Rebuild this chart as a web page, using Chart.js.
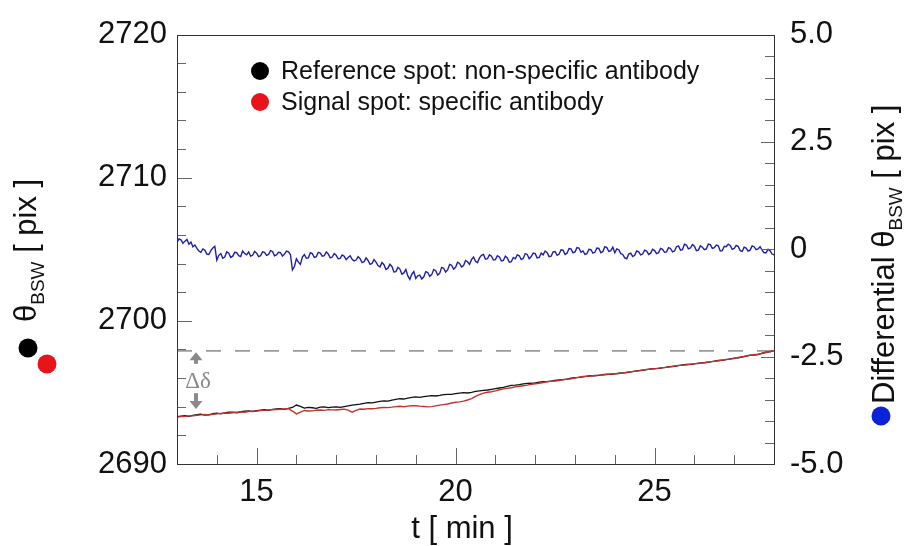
<!DOCTYPE html>
<html lang="en">
<head>
  <meta charset="UTF-8" />
  <title>BSW angle vs time</title>
  <script src="https://cdn.jsdelivr.net/npm/chart.js"></script>
  <style>
    body { margin: 0; background: #fff; }
    canvas { display: block; }
  </style>
</head>
<body>
  <canvas id="bswChart" width="908" height="546"></canvas>

  <script>
    // time grid (min)
    const tStart = 13, tEnd = 28;
    const xTickLabels = [15, 20, 25];
    const xMinorTicks = [14, 15, 16, 17, 18, 19, 20, 21, 22, 23, 24, 25, 26, 27];

    // left axis: theta_BSW [pix]
    const leftTicks = [2690, 2700, 2710, 2720];
    const leftMinorTicks = [2692, 2694, 2696, 2698, 2700, 2702, 2704, 2706, 2708, 2710, 2712, 2714, 2716, 2718];
    // right axis: differential [pix]
    const rightTicks = [5, 2.5, 0, -2.5, -5];
    const rightMinorTicks = [-4.5, -4, -3.5, -3, -2.5, -2, -1.5, -1, -0.5, 0, 0.5, 1, 1.5, 2, 2.5, 3, 3.5, 4, 4.5];

    const deltaLevel = 2697.9;

    // reference spot, sampled every 0.1 min from 13 to 28
    const reference = [
      2693.30, 2693.35, 2693.37, 2693.33, 2693.39, 2693.44, 2693.48, 2693.42, 2693.44, 2693.51,
      2693.55, 2693.50, 2693.57, 2693.62, 2693.63, 2693.58, 2693.65, 2693.69, 2693.71, 2693.67,
      2693.72, 2693.77, 2693.79, 2693.75, 2693.81, 2693.85, 2693.86, 2693.82, 2693.89, 2693.95,
      2694.12, 2694.02, 2693.90, 2693.95, 2693.93, 2693.89, 2693.97, 2693.99, 2693.94, 2693.98,
      2693.99, 2693.96, 2694.01, 2694.06, 2694.11, 2694.15, 2694.19, 2694.24, 2694.29, 2694.27,
      2694.33, 2694.38, 2694.41, 2694.39, 2694.46, 2694.52, 2694.56, 2694.54, 2694.61, 2694.66,
      2694.69, 2694.65, 2694.70, 2694.74, 2694.77, 2694.75, 2694.79, 2694.84, 2694.87, 2694.86,
      2694.91, 2694.95, 2694.98, 2694.96, 2695.01, 2695.07, 2695.11, 2695.14, 2695.17, 2695.22,
      2695.27, 2695.31, 2695.35, 2695.43, 2695.49, 2695.51, 2695.55, 2695.60, 2695.63, 2695.64,
      2695.67, 2695.72, 2695.75, 2695.76, 2695.79, 2695.84, 2695.87, 2695.90, 2695.93, 2695.99,
      2696.03, 2696.05, 2696.09, 2696.14, 2696.17, 2696.16, 2696.19, 2696.24, 2696.27, 2696.26,
      2696.29, 2696.34, 2696.37, 2696.39, 2696.43, 2696.49, 2696.53, 2696.55, 2696.59, 2696.64,
      2696.67, 2696.68, 2696.71, 2696.77, 2696.81, 2696.83, 2696.87, 2696.92, 2696.95, 2696.96,
      2696.99, 2697.04, 2697.07, 2697.09, 2697.13, 2697.19, 2697.23, 2697.24, 2697.29, 2697.35,
      2697.39, 2697.42, 2697.47, 2697.55, 2697.61, 2697.60, 2697.65, 2697.74, 2697.81, 2697.84,
      2697.92
    ];
    // signal spot, same sampling
    const signal = [
      2693.28, 2693.31, 2693.33, 2693.36, 2693.37, 2693.41, 2693.43, 2693.46, 2693.43, 2693.48,
      2693.50, 2693.54, 2693.56, 2693.55, 2693.58, 2693.62, 2693.64, 2693.62, 2693.66, 2693.69,
      2693.70, 2693.73, 2693.75, 2693.78, 2693.79, 2693.80, 2693.83, 2693.85, 2693.86, 2693.70,
      2693.50, 2693.62, 2693.74, 2693.70, 2693.71, 2693.76, 2693.77, 2693.75, 2693.80, 2693.78,
      2693.77, 2693.81, 2693.83, 2693.76, 2693.62, 2693.75, 2693.84, 2693.83, 2693.87, 2693.86,
      2693.89, 2693.93, 2693.95, 2693.94, 2693.97, 2694.01, 2694.03, 2694.00, 2694.04, 2694.07,
      2694.07, 2694.04, 2694.02, 2693.99, 2694.01, 2694.06, 2694.11, 2694.15, 2694.19, 2694.26,
      2694.31, 2694.34, 2694.39, 2694.47, 2694.57, 2694.72, 2694.85, 2694.95, 2695.01, 2695.05,
      2695.11, 2695.19, 2695.25, 2695.28, 2695.33, 2695.39, 2695.43, 2695.47, 2695.51, 2695.57,
      2695.61, 2695.64, 2695.69, 2695.75, 2695.79, 2695.80, 2695.83, 2695.89, 2695.93, 2695.96,
      2696.01, 2696.07, 2696.11, 2696.12, 2696.15, 2696.19, 2696.21, 2696.22, 2696.25, 2696.30,
      2696.31, 2696.32, 2696.35, 2696.41, 2696.45, 2696.47, 2696.51, 2696.57, 2696.61, 2696.62,
      2696.65, 2696.70, 2696.73, 2696.75, 2696.79, 2696.85, 2696.89, 2696.90, 2696.93, 2696.98,
      2697.01, 2697.02, 2697.05, 2697.11, 2697.15, 2697.17, 2697.21, 2697.27, 2697.31, 2697.33,
      2697.37, 2697.44, 2697.49, 2697.53, 2697.59, 2697.64, 2697.67, 2697.72, 2697.79, 2697.86,
      2697.93
    ];
    // differential, sampled every 0.05 min from 13 to 28
    const differential = [
      0.16, 0.24, 0.22, 0.14, 0.19, 0.23, 0.12, 0.17, 0.06, 0.10, 0.02, -0.04, -0.07, 0.01, -0.02, -0.11, -0.12, -0.03, 0.03, 0.07,
      -0.25, -0.14, -0.10, -0.21, -0.18, -0.06, -0.09, -0.19, -0.16, -0.07, -0.08, -0.15, -0.17, -0.04, -0.10, -0.13, -0.06, -0.16, -0.14, -0.05,
      -0.09, -0.17, -0.15, -0.06, -0.07, -0.14, -0.12, -0.03, -0.05, -0.15, -0.13, -0.07, -0.08, -0.16, -0.11, -0.04, -0.06, -0.12, -0.48, -0.40,
      -0.22, -0.30, -0.35, -0.18, -0.12, -0.21, -0.20, -0.08, -0.10, -0.19, -0.17, -0.07, -0.09, -0.16, -0.15, -0.06, -0.11, -0.20, -0.18, -0.10,
      -0.14, -0.22, -0.21, -0.13, -0.16, -0.24, -0.19, -0.15, -0.23, -0.27, -0.25, -0.17, -0.22, -0.31, -0.29, -0.20, -0.26, -0.35, -0.33, -0.24,
      -0.30, -0.38, -0.41, -0.31, -0.36, -0.47, -0.44, -0.35, -0.40, -0.53, -0.52, -0.42, -0.46, -0.58, -0.55, -0.47, -0.62, -0.70, -0.58, -0.52,
      -0.68, -0.62, -0.60, -0.69, -0.64, -0.52, -0.54, -0.63, -0.59, -0.47, -0.50, -0.60, -0.56, -0.42, -0.44, -0.53, -0.48, -0.35, -0.37, -0.46,
      -0.42, -0.30, -0.33, -0.41, -0.38, -0.26, -0.29, -0.35, -0.24, -0.18, -0.28, -0.31, -0.20, -0.14, -0.12, -0.23, -0.22, -0.13, -0.16, -0.25,
      -0.24, -0.15, -0.18, -0.27, -0.26, -0.16, -0.20, -0.30, -0.29, -0.19, -0.22, -0.13, -0.15, -0.24, -0.21, -0.10, -0.12, -0.22, -0.17, -0.09,
      -0.10, -0.20, -0.19, -0.09, -0.13, -0.04, -0.08, -0.17, -0.16, -0.06, -0.05, -0.14, -0.11, -0.01, -0.02, -0.12, -0.09, 0.02, 0.01, -0.08,
      -0.06, 0.04, 0.03, -0.07, -0.04, -0.12, -0.10, 0.00, -0.01, -0.09, -0.07, 0.03, 0.02, -0.08, -0.05, 0.06, 0.04, -0.05, -0.03, 0.05,
      -0.08, 0.01, -0.01, -0.10, -0.12, -0.20, -0.22, -0.11, -0.09, -0.17, -0.14, -0.04, -0.06, -0.13, -0.11, -0.02, -0.04, -0.12, -0.09, 0.00,
      -0.03, -0.10, -0.08, 0.02, 0.00, -0.07, -0.06, 0.04, 0.02, -0.06, -0.04, 0.06, 0.08, -0.02, -0.01, 0.12, 0.10, 0.01, 0.03, 0.11,
      0.07, -0.03, -0.02, 0.08, 0.05, -0.01, 0.01, 0.12, 0.11, 0.02, 0.04, 0.10, 0.08, -0.04, -0.03, 0.07, 0.06, 0.12, 0.09, 0.00,
      0.02, 0.09, 0.07, -0.03, -0.05, 0.05, 0.03, -0.04, -0.02, 0.08, 0.06, -0.01, 0.01, 0.06, -0.02, -0.08, -0.08, 0.00, -0.03, -0.11,
      -0.13
    ];

    const FONT = "'Liberation Sans', Arial, Helvetica, sans-serif";
    const tSpot = (i, step) => +(tStart + i * step).toFixed(2);
    const toPoints = (arr, step) => arr.map((v, i) => ({ x: tSpot(i, step), y: v }));

    // inward ticks + box frame
    const frameTicks = {
      id: 'frameTicks',
      afterDatasetsDraw(chart) {
        const { ctx, chartArea: a, scales } = chart;
        ctx.save();
        ctx.lineWidth = 1;
        ctx.strokeStyle = '#666';
        const seg = (x1, y1, x2, y2) => { ctx.beginPath(); ctx.moveTo(x1, y1); ctx.lineTo(x2, y2); ctx.stroke(); };
        xMinorTicks.forEach(v => {
          const px = Math.round(scales.x.getPixelForValue(v)) + 0.5;
          seg(px, a.bottom, px, a.bottom - (xTickLabels.includes(v) ? 16 : 9));
        });
        leftMinorTicks.forEach(v => {
          const py = Math.round(scales.y.getPixelForValue(v)) + 0.5;
          seg(a.left, py, a.left + (v % 10 === 0 ? 15 : 9), py);
        });
        rightMinorTicks.forEach(v => {
          const py = Math.round(scales.y1.getPixelForValue(v)) + 0.5;
          seg(a.right, py, a.right - (v % 2.5 === 0 ? 13 : 9), py);
        });
        ctx.strokeStyle = '#333';
        ctx.strokeRect(Math.round(a.left) + 0.5, Math.round(a.top) + 0.5,
          Math.round(a.right - a.left), Math.round(a.bottom - a.top));
        ctx.restore();
      }
    };

    // legend, axis titles, delta annotation
    const decorations = {
      id: 'decorations',
      afterDraw(chart) {
        const { ctx, chartArea: a, scales } = chart;
        const ds = chart.data.datasets;
        ctx.save();

        // legend in the plot
        ctx.font = '25px ' + FONT;
        ctx.textBaseline = 'middle';
        [[ds[1], '#000', 71], [ds[0], '#e8141b', 102]].forEach(([d, c, y]) => {
          ctx.beginPath();
          ctx.fillStyle = c;
          ctx.arc(a.left + 83, y, 9, 0, Math.PI * 2);
          ctx.fill();
          ctx.fillStyle = '#111';
          ctx.fillText(d.label, a.left + 104, y + 1);
        });

        // rotated title with subscript
        const rotTitle = (x, yStart, parts) => {
          ctx.save();
          ctx.translate(x, yStart);
          ctx.rotate(-Math.PI / 2);
          ctx.textBaseline = 'alphabetic';
          ctx.textAlign = 'left';
          let cx = 0;
          parts.forEach(([txt, size, dy]) => {
            ctx.font = size + 'px ' + FONT;
            ctx.fillText(txt, cx, dy);
            cx += ctx.measureText(txt).width;
          });
          ctx.restore();
        };
        ctx.fillStyle = '#111';
        rotTitle(36, 322, [['\u03b8', 31, 0], ['BSW', 19, 8], [' [ pix ]', 31, 0]]);
        rotTitle(894, 404, [['Differential \u03b8', 31, 0], ['BSW', 19, 8], [' [ pix ]', 31, 0]]);

        // dots next to the titles
        [[28, 348, '#000'], [47, 364, '#e8141b'], [881, 416, '#0a22d8']].forEach(([x, y, c]) => {
          ctx.beginPath();
          ctx.fillStyle = c;
          ctx.arc(x, y, 9.5, 0, Math.PI * 2);
          ctx.fill();
        });

        // x title
        ctx.fillStyle = '#111';
        ctx.font = '31px ' + FONT;
        ctx.textAlign = 'center';
        ctx.textBaseline = 'alphabetic';
        ctx.fillText('t [ min ]', 462, 538);

        // delta-delta annotation
        const ax = Math.round(scales.x.getPixelForValue(13.48));
        const yv = v => scales.y.getPixelForValue(v);
        ctx.fillStyle = '#8a8a8a';
        ctx.strokeStyle = '#8a8a8a';
        ctx.lineWidth = 4;
        const arrow = (yTip, yTail) => {
          const dir = yTip < yTail ? 1 : -1;
          ctx.beginPath();
          ctx.moveTo(ax, yTip + dir * 6);
          ctx.lineTo(ax, yTail);
          ctx.stroke();
          ctx.beginPath();
          ctx.moveTo(ax, yTip);
          ctx.lineTo(ax - 6.5, yTip + dir * 8);
          ctx.lineTo(ax + 6.5, yTip + dir * 8);
          ctx.closePath();
          ctx.fill();
        };
        arrow(yv(2697.8), yv(2697.0));
        arrow(yv(2693.85), yv(2694.95));
        ctx.font = '23px "Liberation Serif", "DejaVu Serif", serif';
        ctx.textAlign = 'center';
        ctx.textBaseline = 'middle';
        ctx.fillText('\u0394\u03b4', ax + 2, yv(2695.75));

        ctx.restore();
      }
    };

    const chart = new Chart(document.getElementById('bswChart'), {
      type: 'line',
      data: {
        datasets: [
          {
            label: 'Signal spot: specific antibody',
            data: toPoints(signal, 0.1),
            borderColor: '#c4322e',
            borderWidth: 1.4,
            yAxisID: 'y',
            order: 1
          },
          {
            label: 'Reference spot: non-specific antibody',
            data: toPoints(reference, 0.1),
            borderColor: '#111',
            borderWidth: 1.3,
            yAxisID: 'y',
            order: 2
          },
          {
            label: 'Differential',
            data: toPoints(differential, 0.05),
            borderColor: '#1f1fa8',
            borderWidth: 1.4,
            yAxisID: 'y1',
            order: 0
          },
          {
            label: 'level',
            data: [{ x: tStart, y: deltaLevel }, { x: tEnd, y: deltaLevel }],
            borderColor: '#9a9a9a',
            borderWidth: 1.6,
            borderDash: [15, 14],
            yAxisID: 'y',
            order: 3
          }
        ]
      },
      options: {
        responsive: false,
        devicePixelRatio: 1,
        animation: false,
        elements: { point: { radius: 0 }, line: { tension: 0 } },
        layout: { padding: { top: 29, left: 0, right: 0, bottom: 0 } },
        plugins: { legend: { display: false }, tooltip: { enabled: false } },
        scales: {
          x: {
            type: 'linear',
            min: tStart,
            max: tEnd,
            afterBuildTicks: s => { s.ticks = xTickLabels.map(v => ({ value: v })); },
            afterFit: s => { s.height = 82; },
            grid: { display: false, drawTicks: false },
            border: { display: false },
            ticks: { font: { family: FONT, size: 31 }, color: '#111', padding: 10, maxRotation: 0, autoSkip: false }
          },
          y: {
            type: 'linear',
            position: 'left',
            min: 2690,
            max: 2720,
            afterBuildTicks: s => { s.ticks = leftTicks.map(v => ({ value: v })); },
            afterFit: s => { s.width = 177; },
            grid: { display: false, drawTicks: false },
            border: { display: false },
            ticks: { font: { family: FONT, size: 31 }, color: '#111', padding: 10, callback: v => String(v) }
          },
          y1: {
            type: 'linear',
            position: 'right',
            min: -5,
            max: 5,
            afterBuildTicks: s => { s.ticks = rightTicks.map(v => ({ value: v })); },
            afterFit: s => { s.width = 134; },
            grid: { display: false, drawTicks: false },
            border: { display: false },
            ticks: {
              font: { family: FONT, size: 31 },
              color: '#111',
              padding: 16,
              callback: v => (v === 0 ? '0' : v.toFixed(1))
            }
          }
        }
      },
      plugins: [frameTicks, decorations]
    });
  </script>
</body>
</html>
